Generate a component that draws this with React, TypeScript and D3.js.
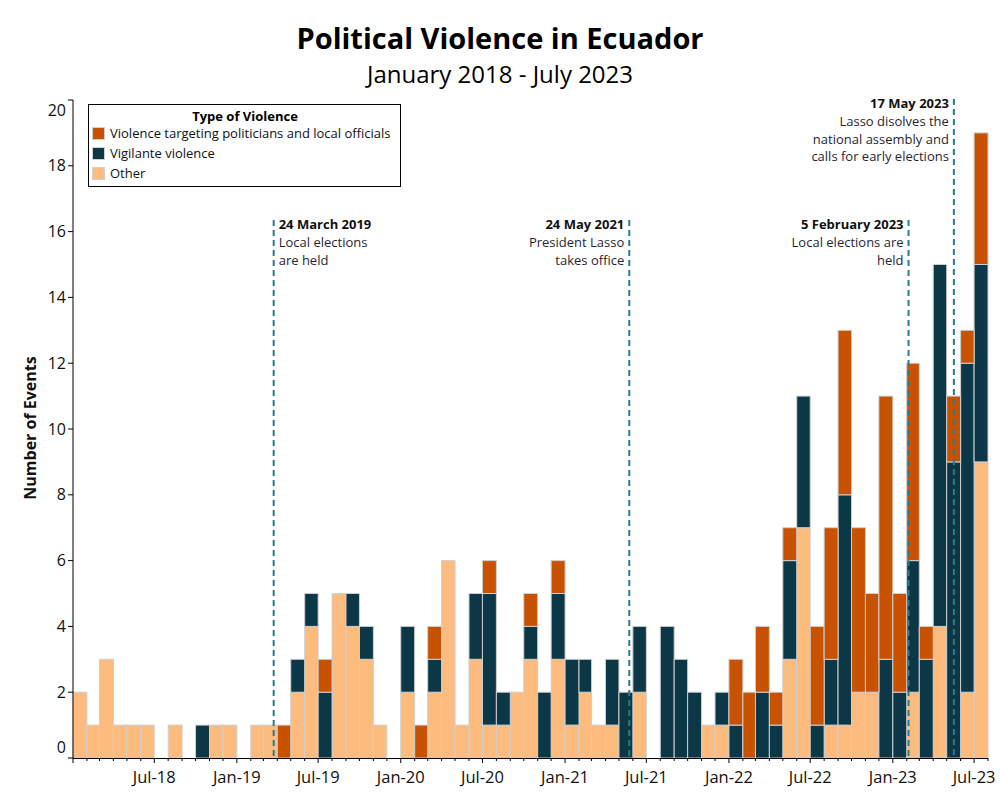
import React from "react";
import * as d3 from "d3";

// Monthly event counts, January 2018 to July 2023
const months: string[] = d3
  .timeMonths(new Date(2018, 0, 1), new Date(2023, 7, 1))
  .map((d) => d3.timeFormat("%Y-%m")(d));

const other: number[] = [
  2, 1, 3, 1, 1, 1, 0, 1, 0, 0, 1, 1,
  0, 1, 1, 0, 2, 4, 0, 5, 4, 3, 1, 0,
  2, 0, 2, 6, 1, 3, 1, 1, 2, 3, 0, 3,
  1, 2, 1, 1, 0, 2, 0, 0, 0, 0, 1, 1,
  0, 0, 0, 0, 3, 7, 0, 1, 1, 2, 2, 0,
  0, 2, 0, 4, 0, 2, 9,
];
const vigilante: number[] = [
  0, 0, 0, 0, 0, 0, 0, 0, 0, 1, 0, 0,
  0, 0, 0, 0, 1, 1, 2, 0, 1, 1, 0, 0,
  2, 0, 1, 0, 0, 2, 4, 1, 0, 1, 2, 2,
  2, 1, 0, 2, 2, 2, 0, 4, 3, 2, 0, 1,
  1, 0, 2, 1, 3, 4, 1, 2, 7, 0, 0, 3,
  2, 4, 3, 11, 9, 10, 6,
];
const politicians: number[] = [
  0, 0, 0, 0, 0, 0, 0, 0, 0, 0, 0, 0,
  0, 0, 0, 1, 0, 0, 1, 0, 0, 0, 0, 0,
  0, 1, 1, 0, 0, 0, 1, 0, 0, 1, 0, 1,
  0, 0, 0, 0, 0, 0, 0, 0, 0, 0, 0, 0,
  2, 2, 2, 1, 1, 0, 3, 4, 5, 5, 3, 8,
  3, 6, 1, 0, 2, 1, 4,
];

// Stacking order is bottom to top
const seriesKeys = ["other", "vigilante", "politicians"];
const seriesLabels: Record<string, string> = {
  politicians: "Violence targeting politicians and local officials",
  vigilante: "Vigilante violence",
  other: "Other",
};
const seriesColors: Record<string, string> = {
  politicians: "#c85200",
  vigilante: "#0b3747",
  other: "#fdbb7d",
};
const legendOrder = ["politicians", "vigilante", "other"];

const yTicks: number[] = [0, 2, 4, 6, 8, 10, 12, 14, 16, 18, 20];

const events = [
  { date: "2019-03-24", title: "24 March 2019", lines: ["Local elections", "are held"], side: "right", top: 220 },
  { date: "2021-05-24", title: "24 May 2021", lines: ["President Lasso", "takes office"], side: "left", top: 220 },
  { date: "2023-02-05", title: "5 February 2023", lines: ["Local elections are", "held"], side: "left", top: 220 },
  { date: "2023-05-17", title: "17 May 2023", lines: ["Lasso disolves the", "national assembly and", "calls for early elections"], side: "left", top: 99 },
];

const FONT = "'Open Sans', 'Noto Sans', sans-serif";

export default function App() {
  const width = 1000;
  const height = 800;
  const left = 73;
  const right = 988;
  const top = 100;
  const bottom = 758;

  const parseMonth = d3.timeParse("%Y-%m");
  const parseDay = d3.timeParse("%Y-%m-%d");
  const dates = months.map((m) => parseMonth(m) as Date);

  const x = d3
    .scaleTime()
    .domain([dates[0], d3.timeMonth.offset(dates[dates.length - 1], 1)])
    .range([left, right]);
  const y = d3.scaleLinear().domain([0, 20]).range([bottom, top]);

  const table = months.map((m, i) => ({
    month: m,
    other: other[i],
    vigilante: vigilante[i],
    politicians: politicians[i],
  }));
  const stacked = d3.stack<any>().keys(seriesKeys)(table);

  const allMonthTicks = x.ticks(d3.timeMonth.every(1) as any);
  const labelTicks = allMonthTicks.filter(
    (d) => d.getMonth() % 6 === 0 && d.getFullYear() * 12 + d.getMonth() > 2018 * 12
  );
  const fmt = d3.timeFormat("%b-%y");

  return (
    <svg
      width={width}
      height={height}
      style={{ position: "absolute", left: 0, top: 0, display: "block", fontFamily: FONT }}
    >
      <rect x={0} y={0} width={width} height={height} fill="#fff" />

      {/* Titles */}
      <text x={500} y={49} textAnchor="middle" fontSize={29} fontWeight={700} fill="#000">
        Political Violence in Ecuador
      </text>
      <text x={500} y={83} textAnchor="middle" fontSize={24} fill="#000">
        January 2018 - July 2023
      </text>

      {/* Stacked bars */}
      {stacked.map((layer) => (
        <g key={layer.key} fill={seriesColors[layer.key]}>
          {layer.map((d, i) => {
            if (d[1] - d[0] <= 0) return null;
            const x0 = x(dates[i]);
            const x1 = x(d3.timeMonth.offset(dates[i], 1));
            return (
              <rect
                key={i}
                x={x0}
                y={y(d[1])}
                width={x1 - x0}
                height={y(d[0]) - y(d[1])}
                stroke="#cfcfcf"
                strokeWidth={1}
              />
            );
          })}
        </g>
      ))}

      {/* Event markers */}
      {events.map((e) => {
        const ex = x(parseDay(e.date) as Date);
        const anchor = e.side === "right" ? "start" : "end";
        const tx = e.side === "right" ? ex + 5 : ex - 5;
        return (
          <g key={e.date}>
            <line
              x1={ex}
              x2={ex}
              y1={e.top}
              y2={bottom}
              stroke="#2b7b8c"
              strokeWidth={2}
              strokeDasharray="6,4"
            />
            <text x={tx} y={e.top + 9} textAnchor={anchor} fontSize={13} fontWeight={700} fill="#111">
              {e.title}
            </text>
            {e.lines.map((l, k) => (
              <text key={k} x={tx} y={e.top + 27 + k * 17.5} textAnchor={anchor} fontSize={13} fill="#2a1f33">
                {l}
              </text>
            ))}
          </g>
        );
      })}

      {/* Y axis */}
      <line x1={left} x2={left} y1={top} y2={bottom} stroke="#000" strokeWidth={1} />
      {yTicks.map((t, i) => {
        const ty = y(t);
        let dy = 5.5;
        if (i === 0) dy = -5;
        if (i === yTicks.length - 1) dy = 16;
        return (
          <g key={t}>
            <line x1={left - 5} x2={left} y1={ty} y2={ty} stroke="#000" />
            <text x={left - 7} y={ty + dy} textAnchor="end" fontSize={16} fill="#111">
              {t}
            </text>
          </g>
        );
      })}
      <text
        transform={`translate(36, ${(top + bottom) / 2 - 1}) rotate(-90)`}
        textAnchor="middle"
        fontSize={16}
        fontWeight={700}
        fill="#111"
      >
        Number of Events
      </text>

      {/* X axis */}
      <line x1={left} x2={right} y1={bottom + 0.5} y2={bottom + 0.5} stroke="#000" strokeWidth={1} />
      {allMonthTicks.map((t, i) => (
        <line
          key={i}
          x1={x(t)}
          x2={x(t)}
          y1={bottom}
          y2={bottom + (t.getMonth() % 6 === 0 ? 5 : 3)}
          stroke="#000"
        />
      ))}
      {labelTicks.map((t, i) => (
        <text key={i} x={x(t)} y={bottom + 25} textAnchor="middle" fontSize={16.5} fill="#111">
          {fmt(t)}
        </text>
      ))}

      {/* Legend */}
      <g>
        <rect x={88.5} y={104.5} width={312} height={82} fill="#fff" stroke="#000" strokeWidth={1} />
        <text x={245} y={121} textAnchor="middle" fontSize={13} fontWeight={700} fill="#000">
          Type of Violence
        </text>
        {legendOrder.map((k, i) => (
          <g key={k} transform={`translate(92, ${127 + i * 20})`}>
            <rect x={0.5} y={0.5} width={12} height={12} fill={seriesColors[k]} stroke="#cfcfcf" />
            <text x={18} y={11} fontSize={13} fill="#111">
              {seriesLabels[k]}
            </text>
          </g>
        ))}
      </g>
    </svg>
  );
}
